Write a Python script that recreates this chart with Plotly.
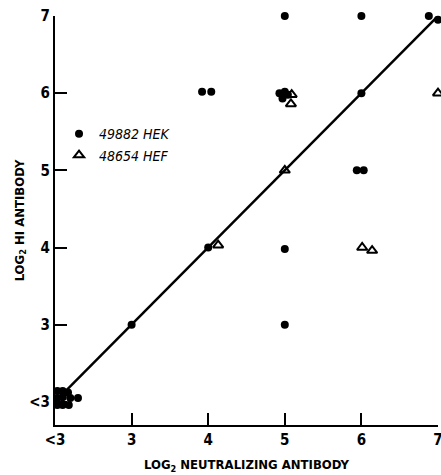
import plotly.graph_objects as go

# ---- data (log2 titres; "<3" plotted at 2) ----
tick_vals = [2, 3, 4, 5, 6, 7]
tick_text = ["<3", "3", "4", "5", "6", "7"]

hek_x = [5.0, 6.0, 6.88, 7.0, 3.92, 4.04, 4.93, 5.0, 4.97, 5.04, 6.0, 5.94, 6.03,
         4.0, 5.0, 5.0, 3.0,
         2.03, 2.10, 2.17, 2.03, 2.10, 2.20, 2.30, 2.03, 2.10, 2.18]
hek_y = [7.0, 7.0, 7.0, 6.95, 6.02, 6.02, 6.0, 6.02, 5.93, 5.98, 6.0, 5.0, 5.0,
         4.0, 3.98, 3.0, 3.0,
         2.14, 2.14, 2.12, 2.05, 2.06, 2.05, 2.05, 1.96, 1.96, 1.96]

hef_x = [5.09, 5.08, 7.0, 5.0, 4.13, 6.01, 6.14]
hef_y = [5.98, 5.86, 6.0, 5.0, 4.03, 4.0, 3.96]

line_x = [2.05, 7.0]
line_y = [2.05, 7.0]

font_main = "DejaVu Sans Condensed, Liberation Sans Narrow, Arial Narrow, sans-serif"

fig = go.Figure()
fig.add_trace(go.Scatter(x=line_x, y=line_y, mode="lines",
                         line=dict(color="black", width=2.5),
                         showlegend=False, hoverinfo="skip", cliponaxis=False))
fig.add_trace(go.Scatter(x=hek_x, y=hek_y, mode="markers", name="49882 HEK",
                         marker=dict(symbol="circle", size=8, color="black",
                                     line=dict(width=0)),
                         cliponaxis=False))
fig.add_trace(go.Scatter(x=hef_x, y=hef_y, mode="markers", name="48654 HEF",
                         marker=dict(symbol="triangle-up-open", size=9, color="black",
                                     line=dict(width=2, color="black")),
                         cliponaxis=False))

axis_common = dict(
    tickmode="array", tickvals=tick_vals, ticktext=tick_text,
    ticks="inside", ticklen=12, tickwidth=2, tickcolor="black",
    showline=True, linecolor="black", linewidth=2,
    showgrid=False, zeroline=False, automargin=False,
    ticklabeloverflow="allow",
    tickfont=dict(family=font_main, size=15, color="black", weight="bold"),
)

fig.update_layout(
    width=441, height=475,
    margin=dict(l=55, r=3, t=16, b=50),
    paper_bgcolor="white", plot_bgcolor="white",
    xaxis=dict(range=[2, 7], **axis_common,
               title=dict(text="LOG<sub>2</sub> NEUTRALIZING ANTIBODY",
                          font=dict(family=font_main, size=13, color="black", weight="bold"),
                          standoff=12)),
    yaxis=dict(range=[1.7, 7], **axis_common,
               title=dict(text="LOG<sub>2</sub> HI ANTIBODY",
                          font=dict(family=font_main, size=13, color="black", weight="bold"),
                          standoff=2)),
    legend=dict(x=0.0105, y=0.75, xanchor="left", yanchor="top",
                bgcolor="rgba(0,0,0,0)", tracegroupgap=0, itemwidth=30,
                font=dict(family=font_main, size=14, color="black", style="italic")),
    showlegend=True,
)

fig.write_html("out.html",
               config={"displayModeBar": False},
               post_script="document.body.style.margin='0';document.body.style.overflow='hidden';")
